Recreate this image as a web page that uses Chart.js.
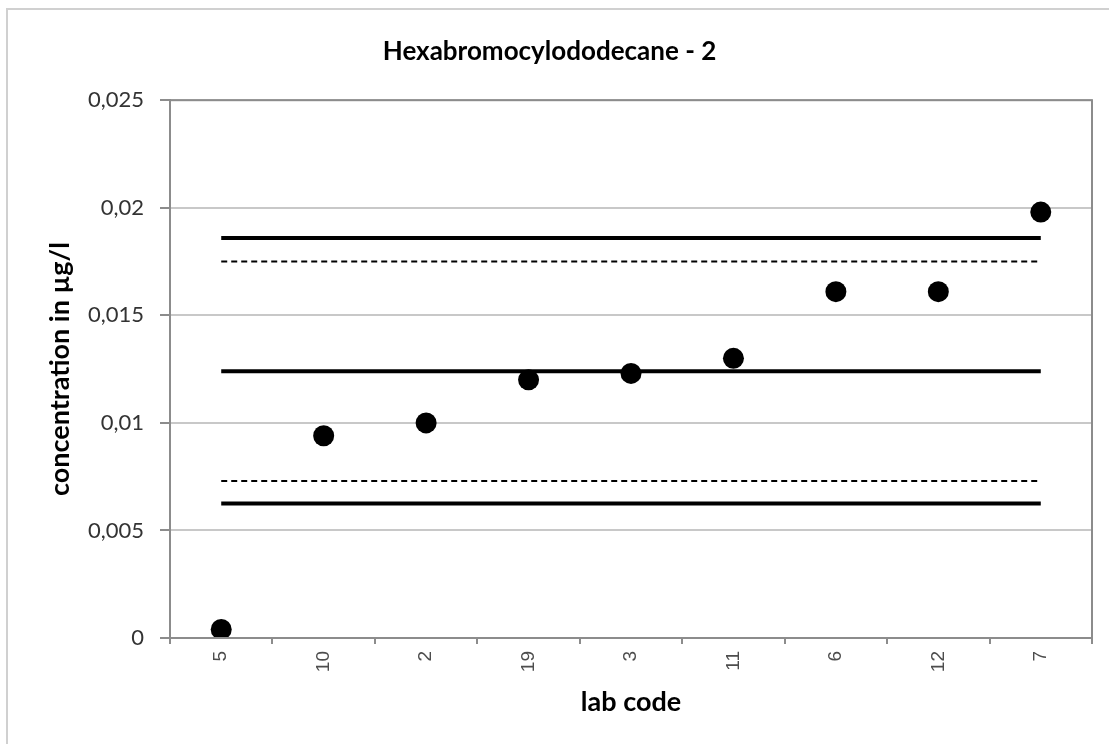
<!DOCTYPE html>
<html>
<head>
<meta charset="utf-8">
<script src="https://cdn.jsdelivr.net/npm/chart.js@4.4.0/dist/chart.umd.min.js"></script>
<style>
  html, body { margin: 0; padding: 0; background: #fff; overflow: hidden; }
  #wrap { position: relative; width: 1109px; height: 744px; }
  #frame {
    position: absolute; left: 6px; top: 8px; width: 1120px; height: 760px;
    border: 2px solid #d0d0d0; pointer-events: none; box-sizing: border-box;
  }
</style>
</head>
<body>
<div id="wrap">
  <canvas id="hbcdChart" width="1109" height="744"></canvas>
  <div id="frame"></div>
</div>
<script>
// Lab codes (x categories) and reported results in µg/l
const labCodes = ['5', '10', '2', '19', '3', '11', '6', '12', '7'];
const labResults = [0.0004, 0.0094, 0.0100, 0.0120, 0.0123, 0.0130, 0.0161, 0.0161, 0.0198];

// Assigned value and limits
const assignedValue = 0.0124;
const upperLimit = 0.0186;
const lowerLimit = 0.00625;
const upperWarn = 0.0175;
const lowerWarn = 0.0073;

// Y axis tick labels (decimal comma)
const yTicks = [0, 0.005, 0.01, 0.015, 0.02, 0.025];
const yTickLabels = ['0', '0,005', '0,01', '0,015', '0,02', '0,025'];

const firstLab = labCodes[0];
const lastLab = labCodes[labCodes.length - 1];

function hLine(value, width, dash) {
    return {
        type: 'line',
        data: [{ x: firstLab, y: value }, { x: lastLab, y: value }],
        borderColor: '#000',
        borderWidth: width,
        borderDash: dash,
        pointRadius: 0,
        fill: false,
        order: 2,
    };
}

// Border around the plot area
const plotFrame = {
    id: 'plotFrame',
    afterDraw(chart) {
        const { ctx, chartArea } = chart;
        ctx.save();
        ctx.strokeStyle = '#8c8c8c';
        ctx.lineWidth = 2;
        ctx.strokeRect(chartArea.left, chartArea.top, chartArea.right - chartArea.left, chartArea.bottom - chartArea.top);
        ctx.restore();
    }
};

const ctx = document.getElementById('hbcdChart').getContext('2d');
const hbcdChart = new Chart(ctx, {
    type: 'line',
    data: {
        labels: labCodes,
        datasets: [
            hLine(upperLimit, 4, []),
            hLine(upperWarn, 2, [6, 4]),
            hLine(assignedValue, 4, []),
            hLine(lowerWarn, 2, [6, 4]),
            hLine(lowerLimit, 4, []),
            {
                type: 'line',
                label: 'results',
                data: labResults,
                showLine: false,
                pointRadius: 10.5,
                pointBackgroundColor: '#000',
                pointBorderColor: '#000',
                pointBorderWidth: 0,
                order: 1,
            },
        ],
    },
    options: {
        responsive: false,
        animation: false,
        layout: { padding: { left: 7, right: 17, top: 0, bottom: 0 } },
        plugins: {
            legend: { display: false },
            tooltip: { enabled: false },
            title: {
                display: true,
                text: 'Hexabromocylododecane - 2',
                color: '#000',
                font: { family: 'Lato', size: 26, weight: 'bold' },
                padding: { top: 36, bottom: 33 },
            },
        },
        scales: {
            x: {
                type: 'category',
                offset: true,
                grid: {
                    offset: true,
                    drawOnChartArea: false,
                    drawTicks: true,
                    tickLength: 6,
                    tickColor: '#8c8c8c',
                    lineWidth: 2,
                },
                border: { color: '#8c8c8c', width: 2 },
                ticks: {
                    color: '#4d4d4d',
                    font: { family: 'Liberation Sans', size: 19 },
                    minRotation: 90,
                    maxRotation: 90,
                    padding: 7,
                },
                title: {
                    display: true,
                    text: 'lab code',
                    color: '#000',
                    font: { family: 'Lato', size: 27, weight: 'bold' },
                    padding: { top: 0, bottom: 26 },
                },
                afterFit(scale) { scale.height = 106; },
            },
            y: {
                min: 0,
                max: 0.025,
                afterBuildTicks(scale) {
                    scale.ticks = yTicks.map(v => ({ value: v }));
                },
                grid: {
                    color: '#c8c8c8',
                    lineWidth: 2,
                    drawTicks: true,
                    tickLength: 10,
                    tickColor: '#8c8c8c',
                },
                border: { color: '#8c8c8c', width: 2 },
                ticks: {
                    color: '#333333',
                    font: { family: 'Lato', size: 22 },
                    padding: 16,
                    callback: (v, i) => yTickLabels[i],
                },
                title: {
                    display: true,
                    text: 'concentration in µg/l',
                    color: '#000',
                    font: { family: 'Lato', size: 27, weight: 'bold' },
                    padding: { top: 37, bottom: 0 },
                },
                afterFit(scale) { scale.width = 163; },
            },
        },
    },
    plugins: [plotFrame],
});
</script>
</body>
</html>
